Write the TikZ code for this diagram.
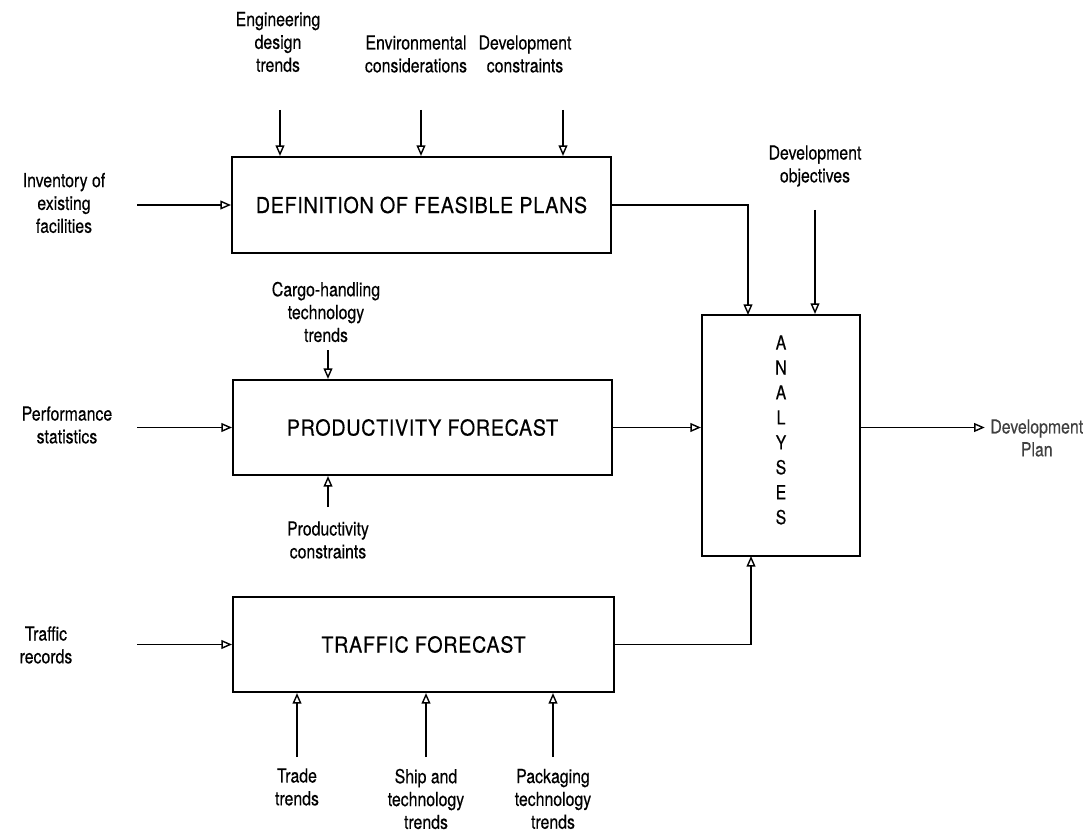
\documentclass[tikz,border=0pt]{standalone}
\usepackage{fontspec}
\setmainfont{TeX Gyre Heros}[FakeStretch=0.82,FakeBold=0.3]
\newfontfamily\boxfont{TeX Gyre Heros}[FakeStretch=0.9,FakeBold=0.3,LetterSpace=3]
\usetikzlibrary{arrows.meta}
\begin{document}
\begin{tikzpicture}[x=0.02cm,y=-0.02cm,
  lbl/.style={align=center, font=\fontsize{11}{13}\selectfont, inner sep=0pt},
  box/.style={draw, line width=1.2pt, inner sep=0pt, font=\boxfont\fontsize{12.5}{15}\selectfont},
  arr/.style={line width=0.8pt, -{Triangle[open,length=6pt,width=5pt]}}]
\useasboundingbox (0,0) rectangle (1090,838);

% boxes
\node[box, minimum width=7.58cm, minimum height=1.92cm] (box1) at (421.5,205) {DEFINITION OF FEASIBLE PLANS};
\node[box, minimum width=7.58cm, minimum height=1.90cm] (box2) at (422.5,427.5) {PRODUCTIVITY FORECAST};
\node[box, minimum width=7.62cm, minimum height=1.90cm] (box3) at (423.5,644.5) {TRAFFIC FORECAST};
\node[box, minimum width=3.16cm, minimum height=4.82cm] (ana) at (781,435.5) {};
\node[lbl, font=\fontsize{11}{14.2}\selectfont] (analet) at (781,430) {A\\N\\A\\L\\Y\\S\\E\\S};

% labels
\node[lbl] (eng) at (278,42) {Engineering\\design\\trends};
\node[lbl] (env) at (416,54) {Environmental\\considerations};
\node[lbl] (devc) at (525,54) {Development\\constraints};
\node[lbl] (inv) at (64,203) {Inventory of\\existing\\facilities};
\node[lbl] (devo) at (815,166) {Development\\objectives};
\node[lbl] (cargo) at (326,312) {Cargo-handling\\technology\\trends};
\node[lbl] (perf) at (67,425) {Performance\\statistics};
\node[lbl] (prodc) at (328,540) {Productivity\\constraints};
\node[lbl] (traf) at (46,645) {Traffic\\records};
\node[lbl] (trade) at (297,787) {Trade\\trends};
\node[lbl] (ship) at (426,799) {Ship and\\technology\\trends};
\node[lbl] (pack) at (553,799) {Packaging\\technology\\trends};
\node[lbl, text=black!75, anchor=west] (plan) at (990,438) {Development\\Plan};

% connector start points
\coordinate (eng-s) at (280,110);
\coordinate (env-s) at (421,110);
\coordinate (devc-s) at (563,110);
\coordinate (inv-s) at (137,205);
\coordinate (devo-s) at (815,210);
\coordinate (cargo-s) at (328,350);
\coordinate (prodc-s) at (328,507);
\coordinate (perf-s) at (137,427.5);
\coordinate (traf-s) at (137,644.5);
\coordinate (trade-s) at (297,757);
\coordinate (ship-s) at (426,757);
\coordinate (pack-s) at (553,757);
\coordinate (a1) at (748,315);
\coordinate (a3) at (751,556);

% connectors
\draw[arr] (eng-s) -- (eng-s |- box1.north);
\draw[arr] (env-s) -- (env-s |- box1.north);
\draw[arr] (devc-s) -- (devc-s |- box1.north);
\draw[arr] (inv-s) -- (box1.west);
\draw[arr] (cargo-s) -- (cargo-s |- box2.north);
\draw[arr] (prodc-s) -- (prodc-s |- box2.south);
\draw[arr] (perf-s) -- (box2.west);
\draw[arr] (traf-s) -- (box3.west);
\draw[arr] (trade-s) -- (trade-s |- box3.south);
\draw[arr] (ship-s) -- (ship-s |- box3.south);
\draw[arr] (pack-s) -- (pack-s |- box3.south);
\draw[arr] (box1.east) -| (a1);
\draw[arr] (devo-s) -- (devo-s |- ana.north);
\draw[arr] (box2.east) -- (box2.east -| ana.west);
\draw[arr] (box3.east) -| (a3);
\draw[arr] (box2.east -| ana.east) -- ([xshift=-3pt]box2.east -| plan.west);
\end{tikzpicture}
\end{document}
